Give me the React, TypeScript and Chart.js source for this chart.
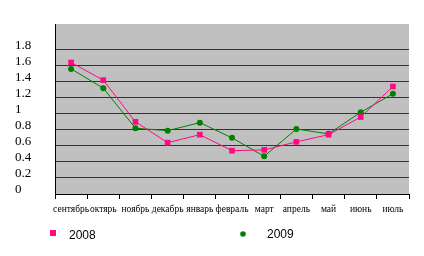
import React, { useEffect, useRef } from "react";
import { Chart, registerables } from "chart.js";

Chart.register(...registerables);

const months = ["сентябрь", "октярь", "ноябрь", "декабрь", "январь", "февраль", "март", "апрель", "май", "июнь", "июль"];
const series2008 = [1.64, 1.42, 0.9, 0.64, 0.74, 0.54, 0.55, 0.65, 0.74, 0.96, 1.34];
const series2009 = [1.56, 1.32, 0.82, 0.79, 0.89, 0.7, 0.47, 0.81, 0.75, 1.02, 1.25];
const yTickMax = 1.8;
const legendLabels = ["2008", "2009"];

const PINK = "#ff0a84";
const GREEN = "#008000";

const legendPlugin = {
  id: "customLegend",
  afterDraw(chart: any) {
    const ctx = chart.ctx;
    ctx.save();
    ctx.font = "12px 'Liberation Sans', Arial, sans-serif";
    ctx.textBaseline = "middle";
    ctx.textAlign = "left";
    ctx.fillStyle = PINK;
    ctx.fillRect(50, 230, 6, 6);
    ctx.fillStyle = "#000";
    ctx.fillText(legendLabels[0], 69, 236);
    ctx.fillStyle = GREEN;
    ctx.beginPath();
    ctx.arc(243, 234, 2.8, 0, Math.PI * 2);
    ctx.fill();
    ctx.fillStyle = "#000";
    ctx.fillText(legendLabels[1], 267, 234.5);
    ctx.restore();
  },
};

const bgPlugin = {
  id: "plotBg",
  beforeDraw(chart: any) {
    const { ctx, chartArea } = chart;
    ctx.save();
    ctx.fillStyle = "#c0c0c0";
    ctx.fillRect(chartArea.left, chartArea.top, chartArea.right - chartArea.left, chartArea.bottom - chartArea.top);
    ctx.restore();
  },
};

export default function App() {
  const ref = useRef<HTMLCanvasElement>(null);
  useEffect(() => {
    document.body.style.margin = "0";
    const chart = new Chart(ref.current as HTMLCanvasElement, {
      type: "line",
      data: {
        labels: months,
        datasets: [
          {
            label: "2008",
            data: series2008,
            borderColor: PINK,
            backgroundColor: PINK,
            borderWidth: 1,
            pointStyle: "rect",
            pointRadius: 4,
            pointBorderWidth: 0,
            tension: 0,
          },
          {
            label: "2009",
            data: series2009,
            borderColor: GREEN,
            backgroundColor: GREEN,
            borderWidth: 1,
            pointStyle: "circle",
            pointRadius: 3,
            pointBorderWidth: 0,
            tension: 0,
          },
        ],
      },
      options: {
        animation: false,
        responsive: false,
        layout: { padding: { left: 15, right: 15, top: 24, bottom: 0 } },
        plugins: { legend: { display: false }, tooltip: { enabled: false } },
        scales: {
          x: {
            offset: true,
            grid: {
              offset: true,
              drawOnChartArea: false,
              drawTicks: true,
              tickLength: 5,
              color: "#000",
            },
            border: { color: "#000", width: 1 },
            ticks: {
              autoSkip: false,
              maxRotation: 0,
              minRotation: 0,
              padding: 5,
              color: "#000",
              font: { family: "'Liberation Serif', 'Times New Roman', serif", size: 9.5 },
            },
            afterFit(scale: any) {
              scale.height = 62;
            },
          },
          y: {
            min: 0,
            max: 2.12,
            afterBuildTicks(scale: any) {
              scale.ticks = scale.ticks.filter((t: any) => t.value <= yTickMax + 1e-9);
            },
            grid: { color: "#333", lineWidth: 1, drawTicks: false },
            border: { color: "#000", width: 1 },
            ticks: {
              stepSize: 0.2,
              crossAlign: "far",
              labelOffset: -4,
              color: "#000",
              font: { family: "'Liberation Serif', 'Times New Roman', serif", size: 13 },
              callback: (v: any) => String(Math.round(Number(v) * 10) / 10),
            },
            afterFit(scale: any) {
              scale.width = 40;
            },
          },
        },
      },
      plugins: [bgPlugin, legendPlugin],
    } as any);
    return () => chart.destroy();
  }, []);
  return (
    <div style={{ width: 424, height: 256 }}>
      <canvas ref={ref} width={424} height={256} style={{ display: "block" }} />
    </div>
  );
}
